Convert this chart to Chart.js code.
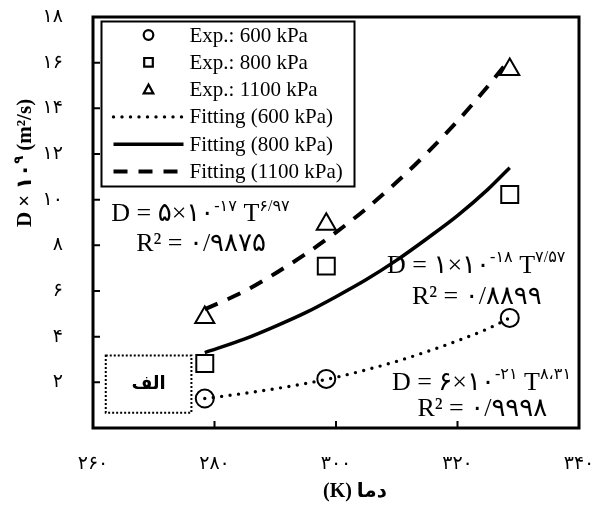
<!DOCTYPE html>
<html>
<head>
<meta charset="utf-8">
<script src="https://cdn.jsdelivr.net/npm/chart.js@4/dist/chart.umd.min.js"></script>
<style>
  html, body { margin: 0; padding: 0; background: #fff; }
  canvas { display: block; }
</style>
</head>
<body>
<canvas id="chart" width="606" height="511"></canvas>
<script>
// Measured diffusion coefficients (D x 10^9, m2/s) at three temperatures (K)
const expT = [278.4, 298.4, 328.6];
const exp600 = [1.29, 2.15, 4.82];
const exp800 = [2.82, 7.09, 10.23];
const exp1100 = [4.84, 8.92, 15.7];

// Fitted power-law curves, read along the temperature range
const fitT = [278.4, 285, 290, 295, 300, 305, 310, 315, 320, 325, 328.6];
const fit600 = [1.29, 1.52, 1.72, 1.95, 2.22, 2.55, 2.92, 3.35, 3.82, 4.35, 4.82];
const fit800 = [3.3, 3.9, 4.45, 5.05, 5.75, 6.5, 7.35, 8.3, 9.3, 10.45, 11.4];
const fit1100 = [5.2, 6.0, 6.77, 7.62, 8.57, 9.61, 10.77, 12.05, 13.44, 14.97, 16.15];

const seriesLabels = ['Exp.: 600 kPa', 'Exp.: 800 kPa', 'Exp.: 1100 kPa',
  'Fitting (600 kPa)', 'Fitting (800 kPa)', 'Fitting (1100 kPa)'];

// Fit equations: [x, baseline y] in data units, then text runs (sup = superscript)
const equations = [
  { at: [263.0, 9.06], parts: [{ t: 'D = ۵×۱۰' }, { t: '-۱۷', sup: true }, { t: ' T' }, { t: '۶/۹۷', sup: true }] },
  { at: [267.1, 7.75], parts: [{ t: 'R² = ۰/۹۸۷۵' }] },
  { at: [308.4, 6.81], parts: [{ t: 'D = ۱×۱۰' }, { t: '-۱۸', sup: true }, { t: ' T' }, { t: '۷/۵۷', sup: true }] },
  { at: [312.5, 5.41], parts: [{ t: 'R² = ۰/۸۸۹۹' }] },
  { at: [309.2, 1.68], parts: [{ t: 'D = ۶×۱۰' }, { t: '-۲۱', sup: true }, { t: ' T' }, { t: '۸،۳۱', sup: true }] },
  { at: [313.4, 0.51], parts: [{ t: 'R² = ۰/۹۹۹۸' }] }
];

const panelLabel = 'الف';
const xTitle = '(K) دما';
const yTitle = [{ t: 'D × ۱۰' }, { t: '۹', sup: true }, { t: ' (m²/s)' }];

const fa = s => String(s).replace(/\d/g, d => '۰۱۲۳۴۵۶۷۸۹'[d]);
const serif = '"Liberation Serif", "DejaVu Sans", serif';

function toXY(xs, ys) {
  return xs.map((x, i) => ({ x: x, y: ys[i] }));
}

function richText(ctx, parts, x, y, size, bold, center) {
  const font = s => (bold ? 'bold ' : '') + s + 'px ' + serif;
  let w = 0;
  parts.forEach(p => {
    ctx.font = font(p.sup ? size * 0.62 : size);
    p.w = ctx.measureText(p.t).width;
    w += p.w;
  });
  let cx = center ? x - w / 2 : x;
  ctx.textAlign = 'left';
  ctx.textBaseline = 'alphabetic';
  parts.forEach(p => {
    ctx.font = font(p.sup ? size * 0.62 : size);
    ctx.fillText(p.t, cx, p.sup ? y - size * 0.4 : y);
    cx += p.w;
  });
}

function marker(ctx, style, x, y, r) {
  ctx.beginPath();
  if (style === 'circle') {
    ctx.arc(x, y, r, 0, Math.PI * 2);
  } else if (style === 'rect') {
    ctx.rect(x - r, y - r, r * 2, r * 2);
  } else {
    ctx.moveTo(x, y - r * 1.05);
    ctx.lineTo(x + r, y + r * 0.8);
    ctx.lineTo(x - r, y + r * 0.8);
    ctx.closePath();
  }
  ctx.stroke();
}

const extras = {
  id: 'extras',
  afterDraw(chart) {
    const { ctx, chartArea: a, scales: { x, y } } = chart;
    ctx.save();
    ctx.fillStyle = '#000';
    ctx.strokeStyle = '#000';

    // plot frame
    ctx.lineWidth = 3;
    ctx.strokeRect(a.left, a.top, a.right - a.left, a.bottom - a.top);

    // inward tick marks
    ctx.lineWidth = 2;
    ctx.beginPath();
    y.ticks.forEach(t => {
      if (t.value > y.min && t.value < y.max) {
        const py = y.getPixelForValue(t.value);
        ctx.moveTo(a.left, py);
        ctx.lineTo(a.left + 7, py);
      }
    });
    x.ticks.forEach(t => {
      if (t.value > x.min && t.value < x.max) {
        const px = x.getPixelForValue(t.value);
        ctx.moveTo(px, a.bottom);
        ctx.lineTo(px, a.bottom - 7);
      }
    });
    ctx.stroke();

    // fit equations
    equations.forEach(e => {
      richText(ctx, e.parts, x.getPixelForValue(e.at[0]), y.getPixelForValue(e.at[1]), 26, false, false);
    });

    // panel tag box
    const bx0 = x.getPixelForValue(262.1), bx1 = x.getPixelForValue(276.2);
    const by0 = y.getPixelForValue(3.17), by1 = y.getPixelForValue(0.67);
    ctx.lineWidth = 2;
    ctx.setLineDash([2, 2]);
    ctx.strokeRect(bx0, by0, bx1 - bx0, by1 - by0);
    ctx.setLineDash([]);
    ctx.font = 'bold 18px "DejaVu Sans", sans-serif';
    ctx.textAlign = 'center';
    ctx.textBaseline = 'middle';
    ctx.fillText(panelLabel, (bx0 + bx1) / 2, (by0 + by1) / 2);

    // legend
    const lx = a.left + 8.5, ly = a.top + 4.5, lw = 253, lh = 165;
    ctx.fillStyle = '#fff';
    ctx.fillRect(lx, ly, lw, lh);
    ctx.fillStyle = '#000';
    ctx.lineWidth = 2;
    ctx.strokeRect(lx, ly, lw, lh);
    const ds = chart.data.datasets;
    ds.forEach((d, i) => {
      const ry = ly + 13.5 + i * 27.3;
      ctx.save();
      if (d.showLine) {
        ctx.lineWidth = d.borderWidth;
        ctx.setLineDash(d.borderDash || []);
        ctx.lineCap = d.borderCapStyle || 'butt';
        ctx.beginPath();
        ctx.moveTo(lx + 12, ry);
        ctx.lineTo(lx + 82, ry);
        ctx.stroke();
      } else {
        ctx.lineWidth = 2.2;
        marker(ctx, d.pointStyle, lx + 47, ry, d.pointStyle === 'rect' ? 4.3 : 4.8);
      }
      ctx.restore();
      ctx.font = '21px ' + serif;
      ctx.textAlign = 'left';
      ctx.textBaseline = 'middle';
      ctx.fillText(d.label, lx + 88, ry + 1);
    });

    // axis titles
    ctx.fillStyle = '#000';
    ctx.font = 'bold 20px ' + serif;
    ctx.textAlign = 'center';
    ctx.textBaseline = 'middle';
    ctx.fillText(xTitle, 355, 492);

    ctx.translate(31, 163);
    ctx.rotate(-Math.PI / 2);
    richText(ctx, yTitle, 0, 0, 21, true, true);
    ctx.restore();
  }
};

const markerStyle = { showLine: false, borderColor: '#000', backgroundColor: 'rgba(0,0,0,0)', pointBorderWidth: 2 };
const lineStyle = { showLine: true, borderColor: '#000', pointRadius: 0, cubicInterpolationMode: 'monotone' };

new Chart(document.getElementById('chart'), {
  type: 'scatter',
  data: {
    datasets: [
      { ...markerStyle, label: seriesLabels[0], data: toXY(expT, exp600), pointStyle: 'circle', pointRadius: 9 },
      { ...markerStyle, label: seriesLabels[1], data: toXY(expT, exp800), pointStyle: 'rect', pointRadius: 12 },
      { ...markerStyle, label: seriesLabels[2], data: toXY(expT, exp1100), pointStyle: 'triangle', pointRadius: 11 },
      { ...lineStyle, label: seriesLabels[3], data: toXY(fitT, fit600), borderWidth: 3.4, borderDash: [0, 8.5], borderCapStyle: 'round' },
      { ...lineStyle, label: seriesLabels[4], data: toXY(fitT, fit800), borderWidth: 3.5 },
      { ...lineStyle, label: seriesLabels[5], data: toXY(fitT, fit1100), borderWidth: 4, borderDash: [14, 11] }
    ]
  },
  options: {
    responsive: false,
    animation: false,
    devicePixelRatio: 1,
    layout: { padding: { top: 17, right: 27, left: 0, bottom: 0 } },
    plugins: { legend: { display: false }, tooltip: { enabled: false } },
    scales: {
      x: {
        min: 260, max: 340,
        grid: { display: false, drawTicks: false },
        border: { display: false },
        ticks: { stepSize: 20, padding: 25, color: '#000', font: { family: 'DejaVu Sans', size: 19 }, maxRotation: 0,
          callback: v => fa(v) },
        afterFit: s => { s.height = 83; s.paddingLeft = 0; s.paddingRight = 0; }
      },
      y: {
        min: 0, max: 18,
        grid: { display: false, drawTicks: false },
        border: { display: false },
        ticks: { stepSize: 2, padding: 30, color: '#000', font: { family: 'DejaVu Sans', size: 19 },
          callback: v => (v === 0 ? '' : fa(v)) },
        afterFit: s => { s.width = 93; s.paddingTop = 0; s.paddingBottom = 0; }
      }
    }
  },
  plugins: [extras]
});
</script>
</body>
</html>
